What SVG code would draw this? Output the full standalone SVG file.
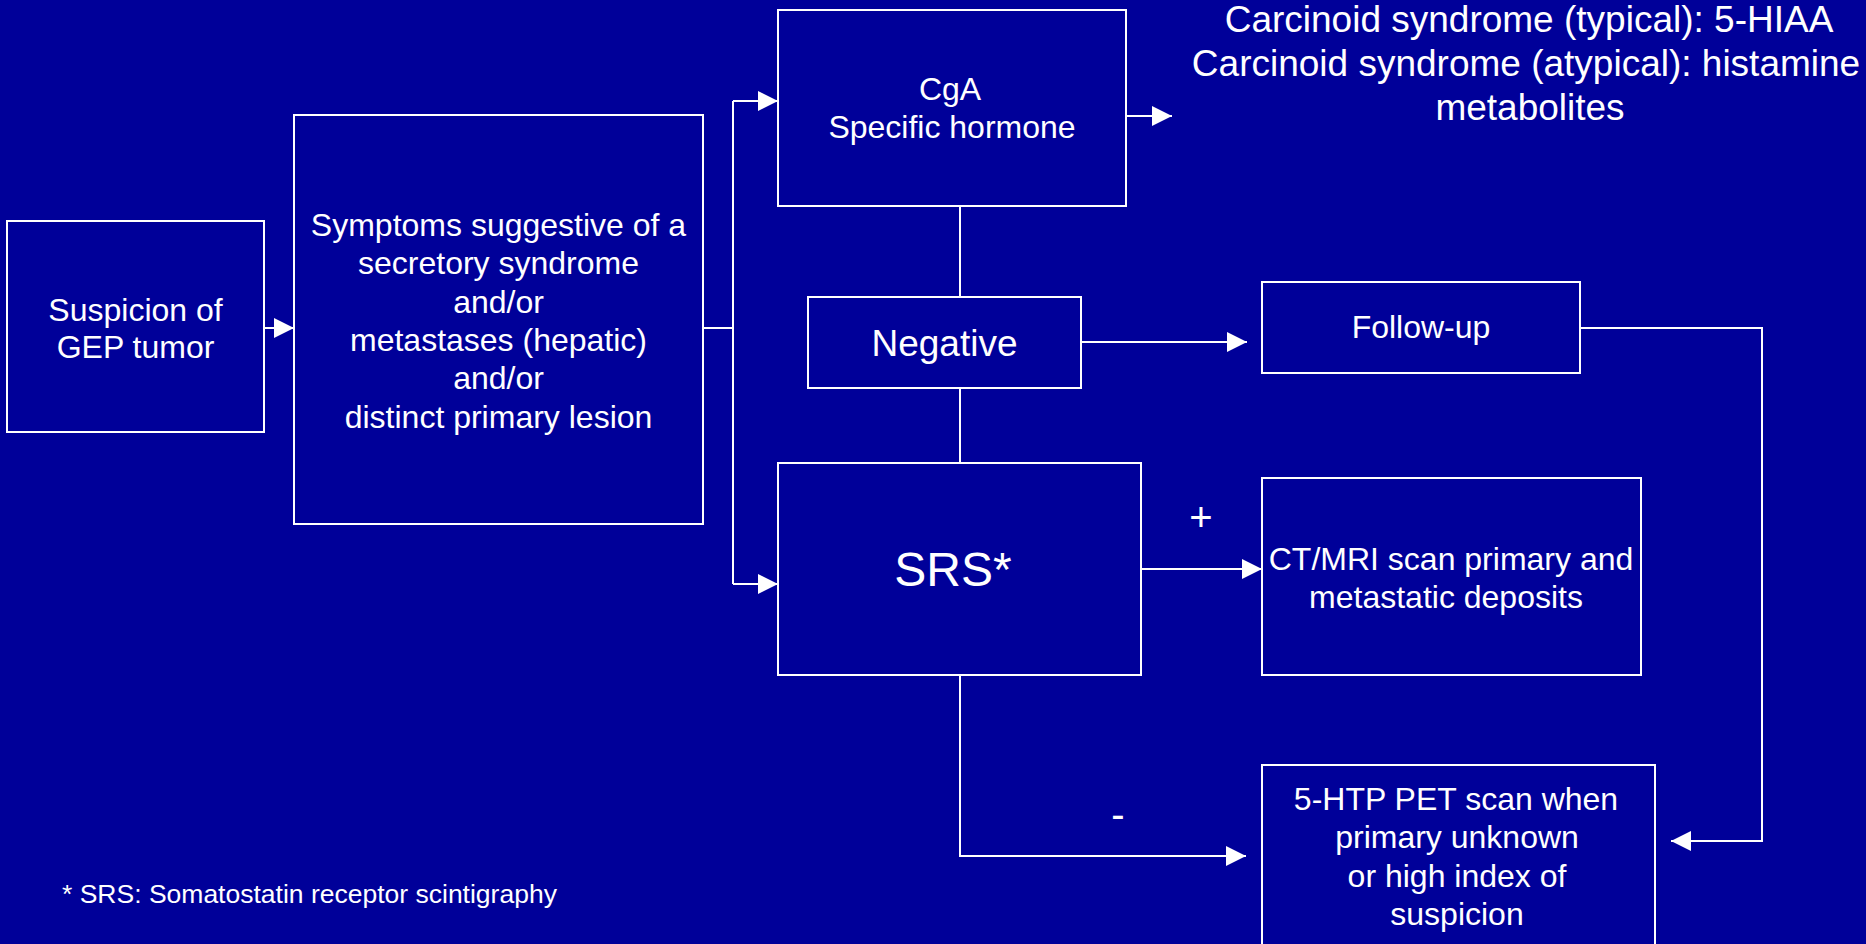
<svg xmlns="http://www.w3.org/2000/svg" width="1866" height="944" viewBox="0 0 1866 944">
<defs>
<style>
.box{fill:none;stroke:#fff;stroke-width:2}
.t{fill:#fff;font-family:"Liberation Sans",Arial,sans-serif;text-anchor:middle}
.c{fill:none;stroke:#fff;stroke-width:2}
</style>
<marker id="ah" markerUnits="userSpaceOnUse" markerWidth="20" markerHeight="20" refX="20" refY="10" orient="auto">
<path d="M0,0 L20,10 L0,20 z" fill="#fff"/>
</marker>
</defs>
<rect width="1866" height="944" fill="#000099"/>
<g id="suspicion">
<rect class="box" x="7" y="221" width="257" height="211"/>
<text class="t" font-size="32" x="135.5" y="321">Suspicion of</text>
<text class="t" font-size="32" x="135.5" y="358">GEP tumor</text>
</g>
<g id="symptoms">
<rect class="box" x="294" y="115" width="409" height="409"/>
<text class="t" font-size="32" x="498.5" y="236">Symptoms suggestive of a</text>
<text class="t" font-size="32" x="498.5" y="274">secretory syndrome</text>
<text class="t" font-size="32" x="498.5" y="313">and/or</text>
<text class="t" font-size="32" x="498.5" y="351">metastases (hepatic)</text>
<text class="t" font-size="32" x="498.5" y="389">and/or</text>
<text class="t" font-size="32" x="498.5" y="428">distinct primary lesion</text>
</g>
<g id="cga">
<rect class="box" x="778" y="10" width="348" height="196"/>
<text class="t" font-size="32" x="950" y="100">CgA</text>
<text class="t" font-size="32" x="952" y="138">Specific hormone</text>
</g>
<g id="carcinoid">
<text class="t" font-size="37" x="1529" y="32">Carcinoid syndrome (typical): 5-HIAA</text>
<text class="t" font-size="37" x="1526" y="75.5">Carcinoid syndrome (atypical): histamine</text>
<text class="t" font-size="37" x="1530" y="120">metabolites</text>
</g>
<g id="negative">
<rect class="box" x="808" y="297" width="273" height="91"/>
<text class="t" font-size="37" x="944.5" y="356">Negative</text>
</g>
<g id="followup">
<rect class="box" x="1262" y="282" width="318" height="91"/>
<text class="t" font-size="32" x="1421" y="338">Follow-up</text>
</g>
<g id="srs">
<rect class="box" x="778" y="463" width="363" height="212"/>
<text class="t" font-size="48" x="953" y="586">SRS*</text>
</g>
<g id="ctmri">
<rect class="box" x="1262" y="478" width="379" height="197"/>
<text class="t" font-size="32" x="1451" y="570">CT/MRI scan primary and</text>
<text class="t" font-size="32" x="1446" y="608">metastatic deposits</text>
</g>
<g id="htp">
<rect class="box" x="1262" y="765" width="393" height="190"/>
<text class="t" font-size="32" x="1456" y="810">5-HTP PET scan when</text>
<text class="t" font-size="32" x="1457" y="848">primary unknown</text>
<text class="t" font-size="32" x="1457" y="887">or high index of</text>
<text class="t" font-size="32" x="1457" y="925">suspicion</text>
</g>
<g id="connectors">
<path class="c" d="M264,328 H294" marker-end="url(#ah)"/>
<path class="c" d="M703,328 H733"/>
<path class="c" d="M733,101 V584"/>
<path class="c" d="M733,101 H778" marker-end="url(#ah)"/>
<path class="c" d="M733,584 H778" marker-end="url(#ah)"/>
<path class="c" d="M1126,116 H1172" marker-end="url(#ah)"/>
<path class="c" d="M960,206 V297"/>
<path class="c" d="M960,388 V463"/>
<path class="c" d="M1081,342 H1247" marker-end="url(#ah)"/>
<path class="c" d="M1141,569 H1262" marker-end="url(#ah)"/>
<path class="c" d="M960,675 V856 H1246" marker-end="url(#ah)"/>
<path class="c" d="M1580,328 H1762 V841 H1671" marker-end="url(#ah)"/>
<text class="t" font-size="40" x="1201" y="531">+</text>
<text class="t" font-size="40" x="1118" y="828">-</text>
</g>
<text x="62" y="903" font-size="26.5" fill="#fff" font-family="Liberation Sans,Arial,sans-serif">* SRS: Somatostatin receptor scintigraphy</text>
</svg>
